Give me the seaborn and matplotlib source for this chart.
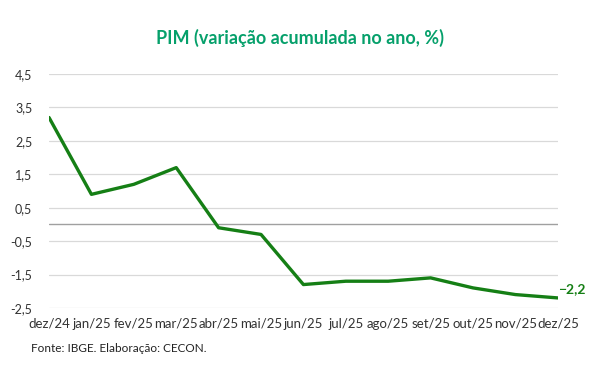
import pandas as pd
import matplotlib.pyplot as plt
import seaborn as sns

meses = ["dez/24", "jan/25", "fev/25", "mar/25", "abr/25", "mai/25", "jun/25",
         "jul/25", "ago/25", "set/25", "out/25", "nov/25", "dez/25"]
pim = [3.2, 0.9, 1.2, 1.7, -0.1, -0.3, -1.8, -1.7, -1.7, -1.6, -1.9, -2.1, -2.2]
yticks = [4.5, 3.5, 2.5, 1.5, 0.5, -0.5, -1.5, -2.5]

df = pd.DataFrame({"pos": range(len(meses)), "pim": pim})

sns.set_style("white")
plt.rcParams["font.family"] = ["Lato", "DejaVu Sans"]

fig = plt.figure(figsize=(6, 3.76), dpi=100)
ax = fig.add_axes([0.0817, 0.181, 0.848, 0.622])

for y in yticks:
    ax.axhline(y, color="#d9d9d9", lw=0.9, zorder=0)
ax.axhline(0, color="#a0a0a0", lw=1.0, zorder=1)

sns.lineplot(data=df, x="pos", y="pim", ax=ax, color="#157f15", lw=2.4, zorder=3)

ax.set_xlim(0, len(meses) - 1)
ax.set_ylim(-2.5, 4.5)
ax.set_xticks(range(len(meses)))
ax.set_xticklabels(meses, fontsize=9.5, color="#333333")
ax.set_yticks(yticks)
ax.set_yticklabels([f"{v:.1f}".replace(".", ",") for v in yticks], fontsize=9, color="#333333")
ax.tick_params(axis="both", length=0)
ax.tick_params(axis="x", pad=7)
ax.tick_params(axis="y", pad=12)
ax.set_xlabel("")
ax.set_ylabel("")
for s in ax.spines.values():
    s.set_visible(False)

ultimo = pim[-1]
ax.annotate(f"{ultimo:.1f}".replace(".", ",").replace("-", "\u2212"),
            xy=(len(meses) - 1, ultimo), xytext=(0, 2), textcoords="offset points",
            ha="left", va="bottom", fontsize=10, fontweight="bold", color="#157f15")

fig.text(0.5, 0.9, "PIM (variação acumulada no ano, %)", ha="center", va="center",
         fontsize=13, fontweight="bold", color="#06a06b")
fig.text(0.052, 0.072, "Fonte: IBGE. Elaboração: CECON.", ha="left", va="center",
         fontsize=8.5, color="#222222")

fig.savefig("out.png", dpi=100)
plt.close(fig)
